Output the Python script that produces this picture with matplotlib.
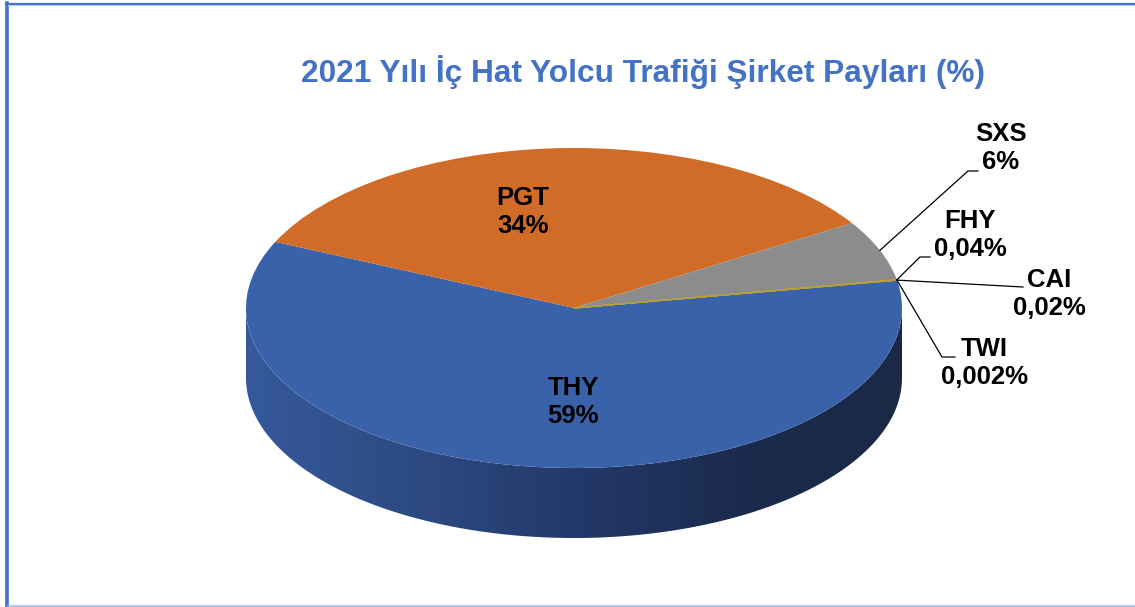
import matplotlib.pyplot as plt
import numpy as np
from matplotlib.colors import LinearSegmentedColormap
from matplotlib.patches import Polygon
from matplotlib.lines import Line2D

# data
companies = ["THY", "PGT", "SXS", "FHY", "CAI", "TWI"]
shares = [59, 34, 6, 0.04, 0.02, 0.002]
share_labels = ["59%", "34%", "6%", "0,04%", "0,02%", "0,002%"]
slice_colors = ["#3a62aa", "#d06b28", "#8c8c8c", "#e0a800", "#c9a227", "#b0a040"]
title = "2021 Yılı İç Hat Yolcu Trafiği Şirket Payları (%)"

W, H = 1135, 607
CX, CY = 574, 308   # pie centre (pixels)
RX, RY = 328, 160   # radii of the elliptical top face
DEPTH = 70          # height of the side wall


def to_data(x, y):
    """pixel position -> data coords of the pie axes"""
    return (x - CX) / RX, (CY - y) / RY


fig = plt.figure(figsize=(W / 100, H / 100), dpi=100)
ax = fig.add_axes([0, 0, 1, 1])

# pie top face
wedges, _ = ax.pie(shares, colors=slice_colors, startangle=10, counterclock=False,
                   radius=1, center=(0, 0), wedgeprops=dict(linewidth=0, zorder=3))
for w in wedges[3:]:
    w.set_edgecolor(w.get_facecolor())
    w.set_linewidth(0.8)

# side wall (front half only, all THY) with a left-to-right shading
d = DEPTH / RY
t = np.linspace(np.pi, 2 * np.pi, 200)
top = np.column_stack([np.cos(t), np.sin(t)])
bottom = np.column_stack([np.cos(t[::-1]), np.sin(t[::-1]) - d])
wall = Polygon(np.vstack([top, bottom]), closed=True, facecolor="none",
               edgecolor="none", transform=ax.transData)
ax.add_patch(wall)
shade = LinearSegmentedColormap.from_list(
    "wall", ["#36599b", "#2d4b83", "#23396a", "#1b2b4d", "#1a2946"])
grad = np.linspace(0, 1, 256).reshape(1, -1)
im = ax.imshow(grad, extent=[-1, 1, -1 - d, 0.05], cmap=shade, aspect="auto",
               zorder=1, interpolation="bilinear")
im.set_clip_path(wall)

ax.set_aspect("auto")
ax.set_xlim(to_data(0, 0)[0], to_data(W, 0)[0])
ax.set_ylim(to_data(0, H)[1], to_data(0, 0)[1])
ax.axis("off")

lbl_font = dict(fontsize=18.5, fontweight="bold", family="Liberation Sans",
                ha="center", va="center", linespacing=1.2, color="black")

# labels inside the pie
for i, (px, py) in [(0, (573, 402)), (1, (523, 212))]:
    ax.text(*to_data(px, py), companies[i] + "\n" + share_labels[i], zorder=5, **lbl_font)

# outside labels with leader lines
angles = []
for w in wedges:
    angles.append(np.deg2rad((w.theta1 + w.theta2) / 2))

outside = {
    2: ((1001, 148), [(968, 171), (978, 171)]),
    3: ((970, 235), [(920, 257), (930, 257)]),
    4: ((1049, 294), [(1023, 287)]),
    5: ((984, 363), [(942, 357), (955, 357)]),
}
for i, (pos, elbow) in outside.items():
    a = angles[i]
    xs = [np.cos(a)]
    ys = [np.sin(a)]
    for ex, ey in elbow:
        dx, dy = to_data(ex, ey)
        xs.append(dx)
        ys.append(dy)
    ax.plot(xs, ys, color="black", lw=0.9, zorder=4)
    ax.text(*to_data(*pos), companies[i] + "\n" + share_labels[i], zorder=5, **lbl_font)

fig.text(643 / W, 1 - 72 / H, title, color="#4472c4", fontsize=22.8, fontweight="bold",
         family="Liberation Sans", ha="center", va="center")

# chart frame
fig.add_artist(Line2D([6.5 / W, 6.5 / W], [0, 1 - 3 / H], transform=fig.transFigure,
                      color="#4472c4", lw=2.6))
fig.add_artist(Line2D([6 / W, 1], [1 - 3.5 / H, 1 - 3.5 / H], transform=fig.transFigure,
                      color="#4472c4", lw=1.6))
fig.add_artist(Line2D([8 / W, 1], [1 - 5 / H, 1 - 5 / H], transform=fig.transFigure,
                      color="#b4c7e7", lw=0.8))
fig.add_artist(Line2D([8 / W, 1], [1 / H, 1 / H], transform=fig.transFigure,
                      color="#a9bfe4", lw=1.2))

fig.savefig("out.png", dpi=100, facecolor="white")
